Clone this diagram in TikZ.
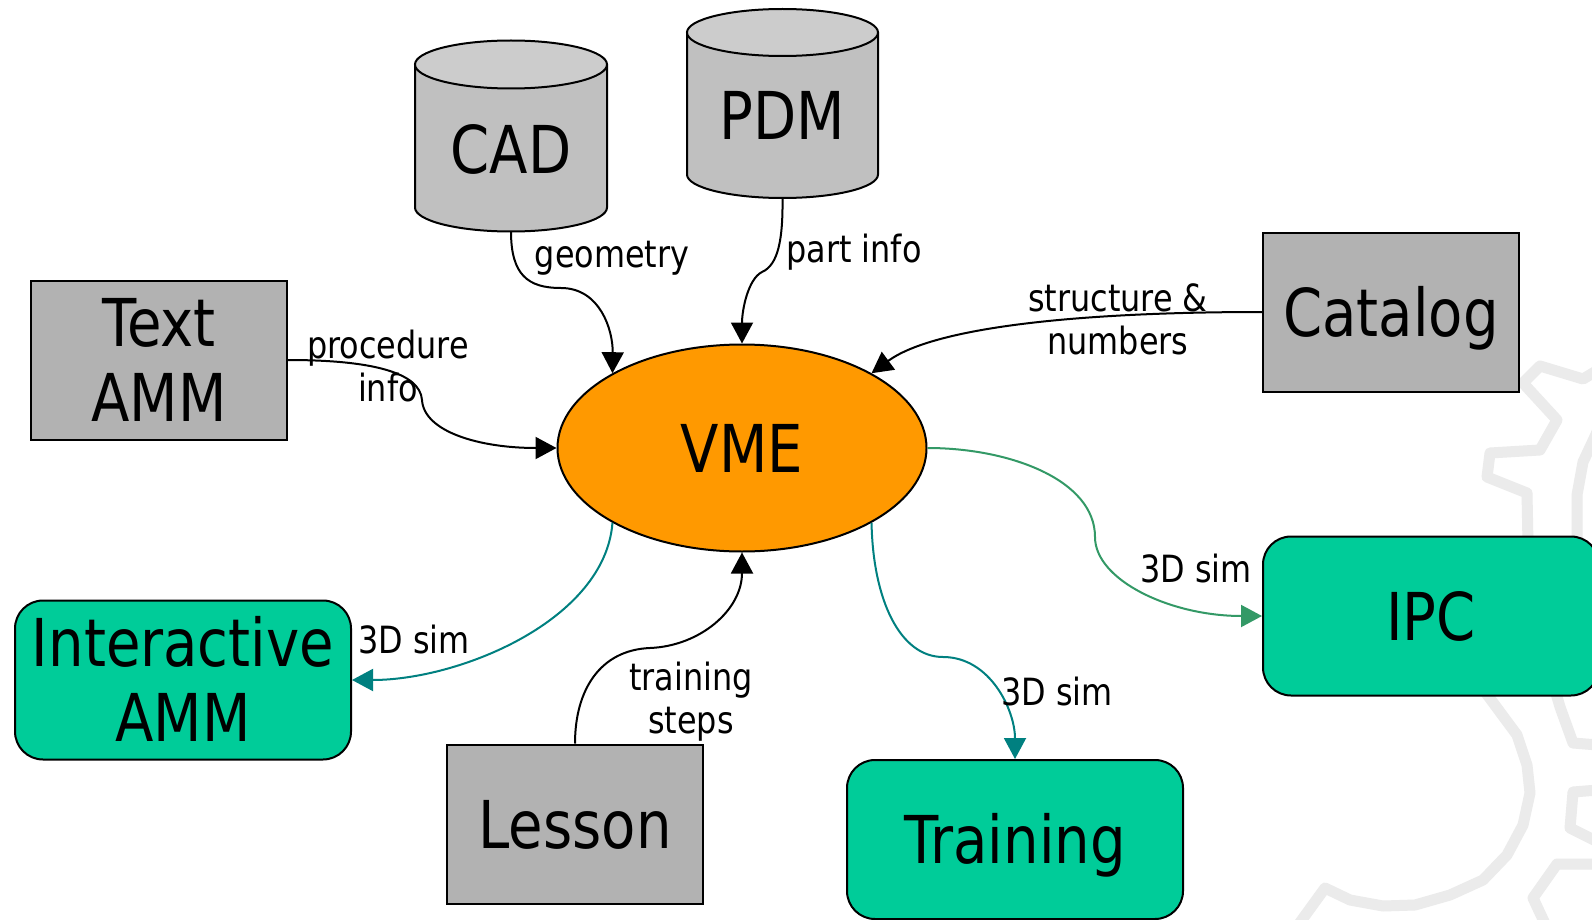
\documentclass[tikz,border=0pt]{standalone}
\usepackage{fontspec}
\setmainfont{DejaVu Sans}[FakeStretch=0.85]
\usetikzlibrary{arrows.meta,shapes.geometric}
\definecolor{boxgray}{HTML}{B2B2B2}
\definecolor{cylbody}{HTML}{C0C0C0}
\definecolor{cyltop}{HTML}{CCCCCC}
\definecolor{vmeorange}{HTML}{FF9900}
\definecolor{outgreen}{HTML}{00CC99}
\definecolor{tealline}{HTML}{008080}
\definecolor{greenline}{HTML}{339966}
\definecolor{gearcol}{HTML}{EBEBEB}
\begin{document}
\begin{tikzpicture}[x=1pt,y=-1pt,
  bigtext/.style={font=\fontsize{66}{75}\selectfont},
  smalltext/.style={font=\fontsize{37.5}{43}\selectfont},
  oneline/.style={text height=48pt, text depth=0pt},
  twoline/.style={text height=123pt, text depth=0pt},
  graybox/.style={draw=black, line width=2pt, fill=boxgray, minimum width=256pt, minimum height=159pt, inner sep=0pt, bigtext, align=center},
  greenbox/.style={draw=black, line width=2pt, fill=outgreen, rounded corners=28pt, minimum width=336pt, minimum height=159pt, inner sep=0pt, bigtext, align=center},
  holder/.style={inner sep=0pt, outer sep=0pt},
  cylline/.style={draw=black, line width=2pt},
  lbl/.style={smalltext, align=center, inner sep=0pt, text height=27pt, text depth=0pt},
  lbltwo/.style={smalltext, align=center, inner sep=0pt, text height=70pt, text depth=0pt},
  conn/.style={line width=2pt},
  blackarrow/.style={conn, draw=black, -{Triangle[length=21pt,width=22pt]}},
  tealarrow/.style={conn, draw=tealline, -{Triangle[length=21pt,width=22pt]}},
  greenarrow/.style={conn, draw=greenline, -{Triangle[length=21pt,width=22pt]}},
  gearline/.style={draw=gearcol, line width=11pt, line join=round}
]
\useasboundingbox (0,0) rectangle (1592,920);
\fill[white] (0,0) rectangle (1592,920);

% watermark gear
\draw[gearline] (1598,370) -- (1583,379) -- (1540,366) -- (1523,383) -- (1557,420) -- (1540,450) -- (1490,453) -- (1487,477) -- (1527,493) -- (1528,545);
\draw[gearline] (1598,430) -- (1583,462) -- (1577,495) -- (1577,545);
\draw[gearline] (1480,685) -- (1517,735) -- (1527,765) -- (1530,793) -- (1523,825) -- (1507,855) -- (1483,880) -- (1450,895) -- (1415,905) -- (1383,906) -- (1350,900) -- (1325,888) -- (1296,928);
\draw[gearline] (1555,690) -- (1560,707) -- (1573,743) -- (1598,745);
\draw[gearline] (1598,790) -- (1573,792) -- (1570,828) -- (1598,842);
\draw[gearline] (1598,864) -- (1557,864) -- (1533,898) -- (1547,928);

% cylinders
\fill[cylbody] (415,64.5) -- (415,207.5) arc[start angle=180, end angle=0, x radius=96, y radius=24] -- (607,64.5) -- cycle;
\draw[cylline] (415,64.5) -- (415,207.5) arc[start angle=180, end angle=0, x radius=96, y radius=24] -- (607,64.5);
\draw[cylline, fill=cyltop] (511,64.5) ellipse[x radius=96, y radius=24];
\node[holder, minimum width=192pt, minimum height=191pt] (cad) at (511,136) {};
\node[bigtext, oneline, inner sep=0pt] (cadtext) at (511,150) {CAD};

\fill[cylbody] (687,32.5) -- (687,174.5) arc[start angle=180, end angle=0, x radius=95.5, y radius=23.5] -- (878,32.5) -- cycle;
\draw[cylline] (687,32.5) -- (687,174.5) arc[start angle=180, end angle=0, x radius=95.5, y radius=23.5] -- (878,32.5);
\draw[cylline, fill=cyltop] (782.5,32.5) ellipse[x radius=95.5, y radius=23.5];
\node[holder, minimum width=191pt, minimum height=189pt] (pdm) at (782.5,103.5) {};
\node[bigtext, oneline, inner sep=0pt] (pdmtext) at (782.5,116) {PDM};

% boxes
\node[graybox, twoline] (textamm) at (159,360) {Text\\AMM};
\node[graybox, oneline] (catalog) at (1391,312) {Catalog};
\node[graybox, oneline] (lesson) at (575,824) {Lesson};
\node[greenbox, twoline] (iamm) at (183,680) {Interactive\\AMM};
\node[greenbox, oneline] (training) at (1015,839.5) {Training};
\node[greenbox, oneline] (ipc) at (1431,616) {IPC};

\node[ellipse, draw=black, line width=2pt, fill=vmeorange, minimum width=369pt, minimum height=207pt, inner sep=0pt, bigtext, oneline] (vme) at (742,448) {VME};

% connectors
\draw[blackarrow] (cad.south) .. controls (511,275) and (528,288) .. (561,288) .. controls (600,288) and (613,330) .. (vme.150);
\draw[blackarrow] (pdm.south) .. controls (783,240) and (778,265) .. (762,272) .. controls (748,279) and (742,310) .. (vme.north);
\draw[blackarrow] (catalog.west) .. controls (1060,312) and (930,330) .. (vme.30);
\draw[blackarrow] (textamm.east) .. controls (370,360) and (420,372) .. (422,400) .. controls (424,432) and (480,448) .. (vme.west);
\draw[blackarrow] (lesson.north) .. controls (575,690) and (600,650) .. (650,648) .. controls (700,646) and (742,610) .. (vme.south);
\draw[tealarrow] (vme.210) .. controls (605,620) and (460,680) .. (iamm.east);
\draw[tealarrow] (vme.330) .. controls (873,600) and (900,657) .. (943,657) .. controls (990,657) and (1015,710) .. (training.north);
\draw[greenarrow] (vme.east) .. controls (1010,448) and (1095,480) .. (1095,537) .. controls (1095,580) and (1170,616) .. (ipc.west);

% labels
\node[lbl] (lgeom) at (612,253.5) {geometry};
\node[lbl] (lpart) at (854,248.5) {part info};
\node[lbltwo] (lstruct) at (1118,319) {structure \&\\numbers};
\node[lbltwo] (lproc) at (388,366) {procedure\\info};
\node[lbltwo] (ltrain) at (691,698) {training\\steps};
\node[lbl] (lsima) at (414,640) {3D sim};
\node[lbl] (lsimb) at (1057,692) {3D sim};
\node[lbl] (lsimc) at (1196,569) {3D sim};
\end{tikzpicture}
\end{document}
